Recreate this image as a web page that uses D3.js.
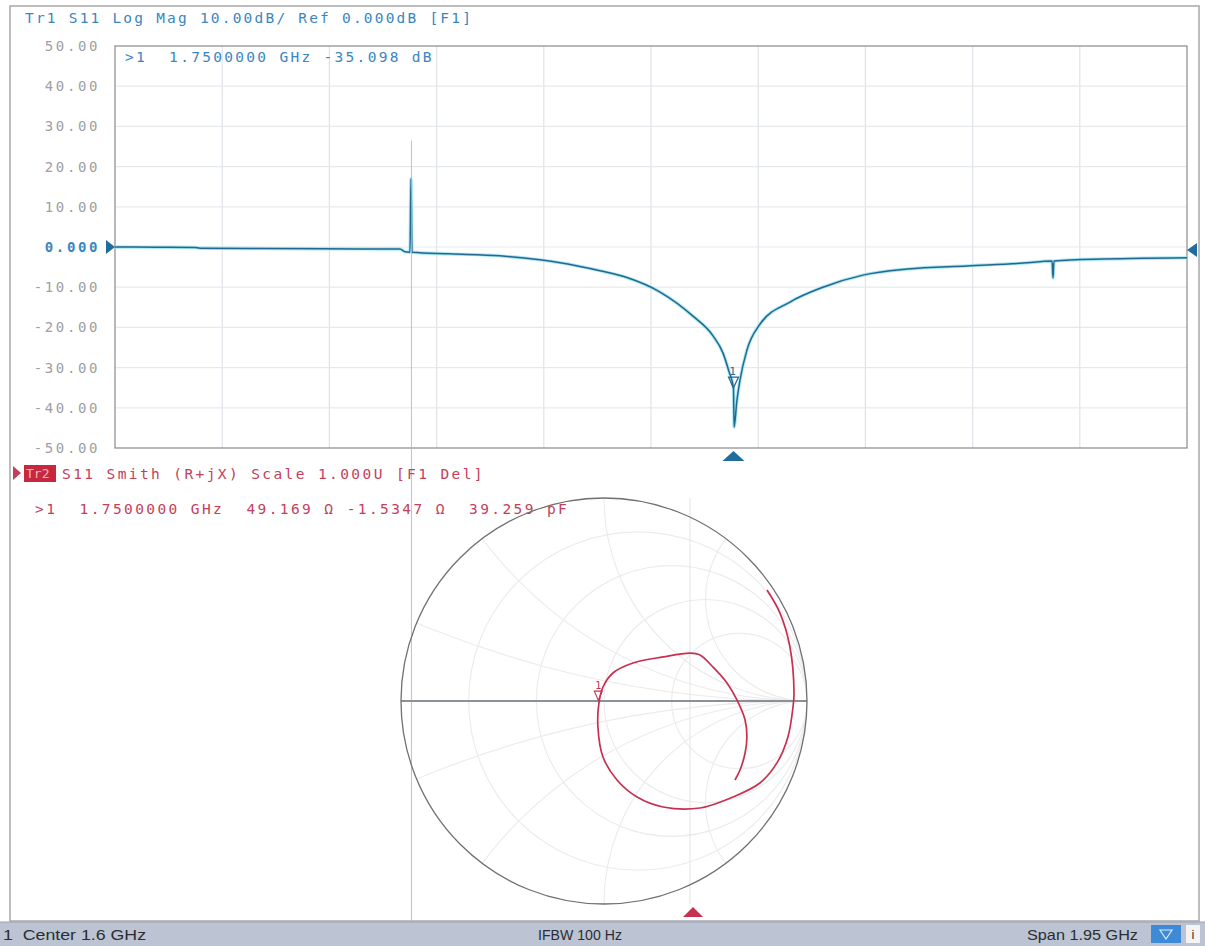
<!DOCTYPE html>
<html><head><meta charset="utf-8">
<script src="https://cdn.jsdelivr.net/npm/d3@7"></script>
<style>body{margin:0;background:#fff;} svg{display:block;}</style>
</head><body>
<svg id="c" width="1205" height="946"></svg>
<script>
// ---------- data ----------
const freqGHz = [0.625, 0.700, 0.7705, 0.7796, 0.900, 1.000, 1.1434, 1.1525, 1.1616, 1.1634, 1.1652, 1.2344, 1.3253, 1.3981, 1.4345,
  1.5072, 1.5563, 1.6164, 1.6764, 1.7128, 1.7310, 1.7419, 1.7500, 1.7512, 1.7560, 1.7619, 1.7746, 1.7983, 1.8528, 1.9129,
  1.9856, 2.0657, 2.1748, 2.2767, 2.3295, 2.3313, 2.3331, 2.4223, 2.500, 2.575];
const s11dB = [0.0, -0.05, -0.1, -0.3, -0.4, -0.45, -0.5, -1.2, -1.3, 17.0, -1.3, -1.7, -2.2, -3.2, -3.9,
  -5.9, -7.6, -11.2, -17.2, -22.1, -26.4, -31.0, -35.1, -44.8, -38.5, -33.1, -25.6, -19.2, -13.7, -10.0,
  -7.0, -5.5, -4.7, -4.0, -3.5, -7.7, -3.5, -3.0, -2.8, -2.7];
const yTickValues = [50, 40, 30, 20, 10, 0, -10, -20, -30, -40, -50];
const yTickLabels = ["50.00", "40.00", "30.00", "20.00", "10.00", "0.000", "-10.00", "-20.00", "-30.00", "-40.00", "-50.00"];
const freqStart = 0.625, freqStop = 2.575, xDivisions = 10;
const markerFreq = 1.75, markerDb = -35.098;

// Smith chart trace (reflection coefficient, real / imaginary), in sweep order
const smithRe = [0.803, 0.867, 0.916, 0.936, 0.931, 0.906, 0.852, 0.768, 0.635, 0.473, 0.291, 0.163, 0.064, -0.005, -0.030,
  -0.025, -0.005, 0.044, 0.143, 0.291, 0.424, 0.473, 0.537, 0.606, 0.655, 0.695, 0.704, 0.695, 0.670, 0.645];
const smithIm = [0.547, 0.433, 0.266, 0.039, -0.030, -0.177, -0.305, -0.404, -0.473, -0.527, -0.522, -0.473, -0.389, -0.276, -0.128,
  -0.010, 0.069, 0.138, 0.187, 0.217, 0.236, 0.227, 0.167, 0.089, 0.005, -0.094, -0.177, -0.256, -0.340, -0.389];
const smithMarkerRe = -0.0084, smithMarkerIm = -0.0155;
const resistanceCircles = [0.2, 0.5, 1, 2];
const reactanceArcs = [0.2, 0.5, 1, 2];

// ---------- drawing ----------
const svg = d3.select("#c");
const MONO = "'DejaVu Sans Mono', 'Liberation Mono', monospace";
const BLUE = "#3a86c0", RED = "#c4405a";

// outer frame
svg.append("rect").attr("x", 10).attr("y", 6).attr("width", 1189).attr("height", 915)
  .attr("fill", "none").attr("stroke", "#a8a8a8").attr("stroke-width", 1.5);

// ---- top plot ----
const P = {l: 115, r: 1187, t: 46, b: 448};
const x = d3.scaleLinear().domain([freqStart, freqStop]).range([P.l, P.r]);
const y = d3.scaleLinear().domain([-50, 50]).range([P.b, P.t]);

const gTop = svg.append("g");
const xGridVals = d3.range(xDivisions + 1).map(i => freqStart + i * (freqStop - freqStart) / xDivisions);
gTop.append("g").selectAll("line").data(xGridVals.slice(1, -1)).join("line")
  .attr("x1", d => x(d)).attr("x2", d => x(d)).attr("y1", P.t).attr("y2", P.b)
  .attr("stroke", "#dfe3e8").attr("stroke-width", 1.2);
gTop.append("g").selectAll("line").data(yTickValues.slice(1, -1)).join("line")
  .attr("x1", P.l).attr("x2", P.r).attr("y1", d => y(d)).attr("y2", d => y(d))
  .attr("stroke", "#e6e9ec").attr("stroke-width", 1.2);
gTop.append("rect").attr("x", P.l).attr("y", P.t).attr("width", P.r - P.l).attr("height", P.b - P.t)
  .attr("fill", "none").attr("stroke", "#8a8a8a").attr("stroke-width", 1.2);

// y tick labels
const yAxis = d3.axisLeft(y).tickValues(yTickValues).tickSize(0)
  .tickFormat((d, i) => yTickLabels[i]);
const ya = gTop.append("g").attr("transform", `translate(${P.l - 12},0)`).call(yAxis);
ya.select(".domain").remove();
ya.selectAll("text").attr("font-family", MONO).attr("font-size", 14)
  .attr("letter-spacing", "2.6px")
  .attr("fill", d => d === 0 ? BLUE : "#a0a0a0").attr("font-weight", d => d === 0 ? "bold" : "normal");

// scan artefact line
svg.append("line").attr("x1", x(1.1634) + 0.5).attr("x2", x(1.1634) + 0.5).attr("y1", y(26.5)).attr("y2", 925)
  .attr("stroke", "#b4b4b4").attr("stroke-width", 1).attr("opacity", 0.8);

// trace
const pts = freqGHz.map((f, i) => [f, s11dB[i]]);
const line = d3.line().x(d => x(d[0])).y(d => y(d[1])).curve(d3.curveMonotoneX);
gTop.append("path").datum(pts).attr("d", line).attr("fill", "none")
  .attr("stroke", "#86dbf0").attr("stroke-width", 3.4).attr("opacity", 0.7);
gTop.append("path").datum(pts).attr("d", line).attr("fill", "none")
  .attr("stroke", "#23698f").attr("stroke-width", 1.5);

// reference arrows
const yr = y(0);
gTop.append("path").attr("d", `M${P.l - 9},${yr - 7} L${P.l},${yr} L${P.l - 9},${yr + 7} Z`).attr("fill", "#1f6d9c");
gTop.append("path").attr("d", `M${P.r + 10},${yr - 4} L${P.r},${yr + 3} L${P.r + 10},${yr + 10} Z`).attr("fill", "#1f6d9c");

// marker
const mx = x(markerFreq), my = y(markerDb);
gTop.append("path").attr("d", `M${mx - 5},${my - 11} L${mx + 5},${my - 11} L${mx},${my} Z`)
  .attr("fill", "none").attr("stroke", "#23698f").attr("stroke-width", 1.2);
gTop.append("text").attr("x", mx - 1).attr("y", my - 13).attr("text-anchor", "middle")
  .attr("font-family", MONO).attr("font-size", 11).attr("fill", "#23698f").text("1");
gTop.append("path").attr("d", `M${mx - 11},${P.b + 13} L${mx + 11},${P.b + 13} L${mx},${P.b + 3} Z`).attr("fill", "#1f6d9c");

// header texts
svg.append("text").attr("x", 25).attr("y", 23).attr("font-family", MONO).attr("font-size", 14.5)
  .attr("letter-spacing", "2.2px").attr("fill", BLUE).text("Tr1 S11 Log Mag 10.00dB/ Ref 0.000dB [F1]");
svg.append("text").attr("x", 125).attr("y", 62).attr("font-family", MONO).attr("font-size", 14.5)
  .attr("letter-spacing", "2.3px").attr("fill", BLUE).attr("xml:space", "preserve")
  .text(">1  1.7500000 GHz -35.098 dB");

// ---- lower panel (Smith) ----
svg.append("path").attr("d", "M13,466 L21,473 L13,480 Z").attr("fill", RED);
svg.append("rect").attr("x", 24).attr("y", 465).attr("width", 32).attr("height", 17).attr("fill", "#c8283e");
svg.append("text").attr("x", 26).attr("y", 478).attr("font-family", MONO).attr("font-size", 13)
  .attr("fill", "#f2b8c2").text("Tr2");
svg.append("text").attr("x", 62).attr("y", 479).attr("font-family", MONO).attr("font-size", 14.5)
  .attr("letter-spacing", "2.4px").attr("fill", RED).text("S11 Smith (R+jX) Scale 1.000U [F1 Del]");
svg.append("text").attr("x", 35).attr("y", 514).attr("font-family", MONO).attr("font-size", 14.5)
  .attr("letter-spacing", "2.4px").attr("fill", RED).attr("xml:space", "preserve")
  .text(">1  1.7500000 GHz  49.169 Ω -1.5347 Ω  39.259 pF");

const cx = 604, cy = 701, R = 203;
const sx = d3.scaleLinear().domain([-1, 1]).range([cx - R, cx + R]);
const sy = d3.scaleLinear().domain([-1, 1]).range([cy + R, cy - R]);
const sr = d3.scaleLinear().domain([0, 1]).range([0, R]);

svg.append("defs").append("clipPath").attr("id", "unit").append("circle")
  .attr("cx", cx).attr("cy", cy).attr("r", R);
const gS = svg.append("g");
const gGrid = gS.append("g").attr("clip-path", "url(#unit)");
gGrid.selectAll("circle.r").data(resistanceCircles).join("circle").attr("class", "r")
  .attr("cx", d => sx(d / (1 + d))).attr("cy", sy(0)).attr("r", d => sr(1 / (1 + d)))
  .attr("fill", "none").attr("stroke", "#ececec").attr("stroke-width", 1.2);
const arcs = reactanceArcs.flatMap(v => [v, -v]);
gGrid.selectAll("circle.x").data(arcs).join("circle").attr("class", "x")
  .attr("cx", sx(1)).attr("cy", d => sy(1 / d)).attr("r", d => sr(1 / Math.abs(d)))
  .attr("fill", "none").attr("stroke", "#ececec").attr("stroke-width", 1.2);
gS.append("line").attr("x1", 690).attr("x2", 690).attr("y1", cy - R).attr("y2", cy + R)
  .attr("stroke", "#e4e4e4").attr("stroke-width", 1);
gS.append("line").attr("x1", sx(-1)).attr("x2", sx(1)).attr("y1", sy(0)).attr("y2", sy(0))
  .attr("stroke", "#8c9196").attr("stroke-width", 1.8);
gS.append("circle").attr("cx", cx).attr("cy", cy).attr("r", R)
  .attr("fill", "none").attr("stroke", "#707070").attr("stroke-width", 1.3);

// smith trace
const spts = smithRe.map((r, i) => [r, smithIm[i]]);
gS.append("path").datum(spts)
  .attr("d", d3.line().x(d => sx(d[0])).y(d => sy(d[1])).curve(d3.curveCatmullRom.alpha(0.5)))
  .attr("fill", "none").attr("stroke", "#c8304f").attr("stroke-width", 1.7);
const smx = sx(smithMarkerRe) - 4, smy = sy(smithMarkerIm) - 4;
gS.append("path").attr("d", `M${smx - 4},${smy - 9} L${smx + 4},${smy - 9} L${smx},${smy} Z`)
  .attr("fill", "none").attr("stroke", "#c8304f").attr("stroke-width", 1.1);
gS.append("text").attr("x", smx).attr("y", smy - 11).attr("text-anchor", "middle")
  .attr("font-family", MONO).attr("font-size", 10).attr("fill", "#c8304f").text("1");
gS.append("path").attr("d", "M683,917 L703,917 L693,907 Z").attr("fill", "#c8304f");

// ---- status bar ----
const SANS = "'Liberation Sans', Arial, sans-serif";
svg.append("rect").attr("x", 0).attr("y", 922).attr("width", 1205).attr("height", 24).attr("fill", "#bcc3d2");
svg.append("line").attr("x1", 0).attr("x2", 1205).attr("y1", 922).attr("y2", 922).attr("stroke", "#9aa2b4");
const sb = [[3, "1  Center 1.6 GHz", 143], [538, "IFBW 100 Hz", 84], [1027, "Span 1.95 GHz", 111]];
svg.selectAll("text.sb").data(sb).join("text").attr("class", "sb")
  .attr("x", d => d[0]).attr("y", 940)
  .attr("textLength", d => d[2]).attr("lengthAdjust", "spacingAndGlyphs")
  .attr("font-family", SANS).attr("font-size", 14).attr("fill", "#2b2d33").attr("xml:space", "preserve")
  .text(d => d[1]);
svg.append("rect").attr("x", 1151).attr("y", 925).attr("width", 30).attr("height", 18).attr("fill", "#3d8bd6");
svg.append("path").attr("d", "M1160,930 L1172,930 L1166,939 Z").attr("fill", "none").attr("stroke", "#dfeaf7").attr("stroke-width", 1.2);
svg.append("rect").attr("x", 1186).attr("y", 925).attr("width", 14).attr("height", 18).attr("fill", "#f4f4f4");
svg.append("text").attr("x", 1193).attr("y", 939).attr("text-anchor", "middle").attr("font-family", SANS)
  .attr("font-size", 13).attr("fill", "#333").text("i");
</script>
</body></html>
